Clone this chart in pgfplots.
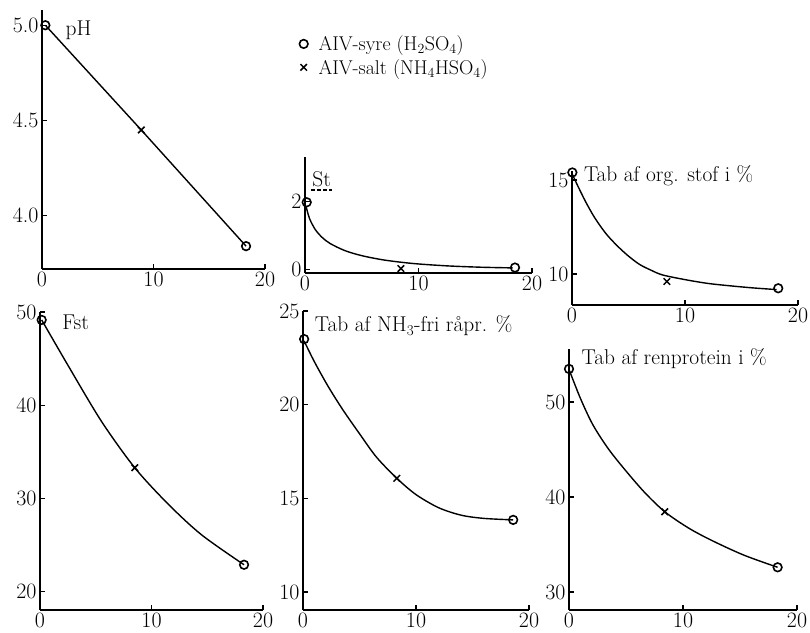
\documentclass[border=0pt]{standalone}
\usepackage{pgfplots}
\pgfplotsset{compat=1.18}

\pgfplotsset{
  panel/.style={
    scale only axis,
    axis x line=bottom, axis y line=left,
    axis line style={-, line width=1.6bp},
    xmin=0, xmax=20, xtick={0,10,20},
    tick align=inside, major tick length=5bp,
    tick style={line width=1.3bp, black},
    /pgf/number format/assume math mode=true,
    ticklabel style={font=\fontsize{22}{22}\selectfont},
    xticklabel style={inner sep=1bp, yshift=-2bp},
    clip=false,
  },
  curve/.style={black, line width=1.4bp, no markers, smooth},
  acid/.style={only marks, mark=o, mark size=4.3bp, black, line width=1.6bp,
               mark options={fill=white}},
  salt/.style={only marks, mark=x, mark size=4.6bp, black, line width=1.5bp},
}
\newcommand\lab{\fontsize{21.5}{23}\selectfont}

\begin{document}
\begin{tikzpicture}
\useasboundingbox (0bp,0bp) rectangle (810bp,633bp);

% pH
\begin{axis}[panel, at={(42bp,364bp)}, anchor=south west,
  width=223bp, height=259bp, ymin=3.72, ymax=5.08,
  ytick={4,4.5,5},
  yticklabel style={/pgf/number format/.cd, fixed, fixed zerofill, precision=1},
  legend style={at={(1.14,0.915)}, anchor=north west, draw=none, fill=none,
    font=\fontsize{20}{21}\selectfont, row sep=4bp, column sep=9bp,
    nodes={inner sep=1.5bp}},
  legend cell align=left]
\addplot[black, line width=1.4bp, no markers, forget plot]
  coordinates {(0.3,5.0) (8.9,4.45) (18.3,3.84)};
\addplot[acid] coordinates {(0.3,5.0) (18.3,3.84)};
\addlegendentry{AIV-syre (H\textsubscript{2}SO\textsubscript{4})}
\addplot[salt] coordinates {(8.9,4.45)};
\addlegendentry{AIV-salt (NH\textsubscript{4}HSO\textsubscript{4})}
\node[anchor=west, font=\lab] at (axis cs:1.8,4.975) {pH};
\end{axis}

% St
\begin{axis}[panel, at={(305bp,360bp)}, anchor=south west,
  width=227bp, height=115.6bp, ymin=-0.1, ymax=3.3, ytick={0,2}]
\addplot[curve] coordinates {(0.1,1.85) (0.4,1.5) (0.9,1.18) (1.5,0.95)
  (2.2,0.77) (3.5,0.56) (5,0.41) (7,0.28) (9.5,0.18) (12.5,0.11)
  (15.5,0.07) (18.3,0.05)};
\addplot[acid] coordinates {(0.15,1.98) (18.5,0.06)};
\addplot[salt] coordinates {(8.45,0.03)};
\node[anchor=south west, font=\lab, inner sep=1bp] (st) at (axis cs:0.55,2.4) {St};
\draw[dashed, line width=1.1bp, dash pattern=on 4bp off 2bp]
  ([yshift=-2bp]st.south west) -- ([yshift=-2bp]st.south east);
\end{axis}

% organic matter loss
\begin{axis}[panel, at={(572bp,328bp)}, anchor=south west,
  width=226bp, height=134.4bp, ymin=8.35, ymax=15.5, ytick={10,15}]
\addplot[curve] coordinates {(0.03,15.3) (0.5,14.7) (1.2,13.85) (2,13.0)
  (3,12.15) (4,11.5) (5,10.95) (6,10.5) (7,10.2) (8,9.95) (10,9.7)
  (12,9.5) (14,9.37) (16,9.26) (18.1,9.17)};
\addplot[acid] coordinates {(0.03,15.4) (18.25,9.24)};
\addplot[salt] coordinates {(8.4,9.6)};
\node[anchor=west, font=\lab] at (axis cs:0.75,15.25) {Tab af org. stof i \%};
\end{axis}

% Fst
\begin{axis}[panel, at={(40bp,23bp)}, anchor=south west,
  width=223bp, height=298bp, ymin=18.05, ymax=50, ytick={20,30,40,50}]
\addplot[curve] coordinates {(0.15,49.15) (2.5,44.3) (5.5,38.3) (8.5,33.3)
  (11.5,29.4) (14.5,26.1) (18.3,22.9)};
\addplot[acid] coordinates {(0.15,49.15) (18.3,22.9)};
\addplot[salt] coordinates {(8.5,33.3)};
\node[anchor=west, font=\lab] at (axis cs:1.7,48.9) {Fst};
\end{axis}

% NH3-free crude protein loss
\begin{axis}[panel, at={(303bp,23bp)}, anchor=south west,
  width=226bp, height=299bp, ymin=9.04, ymax=25, ytick={10,15,20,25}]
\addplot[curve] coordinates {(0.1,23.4) (1,22.3) (2.2,21.0) (3.5,19.75)
  (5,18.45) (6.5,17.2) (8.3,16.07) (10,15.2) (12,14.5) (14,14.1)
  (16,13.93) (18.6,13.85)};
\addplot[acid] coordinates {(0.1,23.5) (18.6,13.85)};
\addplot[salt] coordinates {(8.3,16.07)};
\node[anchor=west, font=\lab] at (axis cs:0.75,24.2) {Tab af NH\textsubscript{3}-fri råpr. \%};
\end{axis}

% pure protein loss
\begin{axis}[panel, at={(569bp,23bp)}, anchor=south west,
  width=228bp, height=261bp, ymin=28.1, ymax=55.6, ytick={30,40,50}]
\addplot[curve] coordinates {(0.05,53.3) (1,50.4) (2.1,47.6) (3.5,45.0)
  (5.1,42.6) (6.7,40.4) (8.4,38.45) (10.4,36.8) (12.4,35.5) (15.3,33.9)
  (18.3,32.6)};
\addplot[acid] coordinates {(0.0,53.5) (18.3,32.6)};
\addplot[salt] coordinates {(8.4,38.45)};
\node[anchor=west, font=\lab] at (axis cs:0.8,54.6) {Tab af renprotein i \%};
\end{axis}
\end{tikzpicture}
\end{document}
